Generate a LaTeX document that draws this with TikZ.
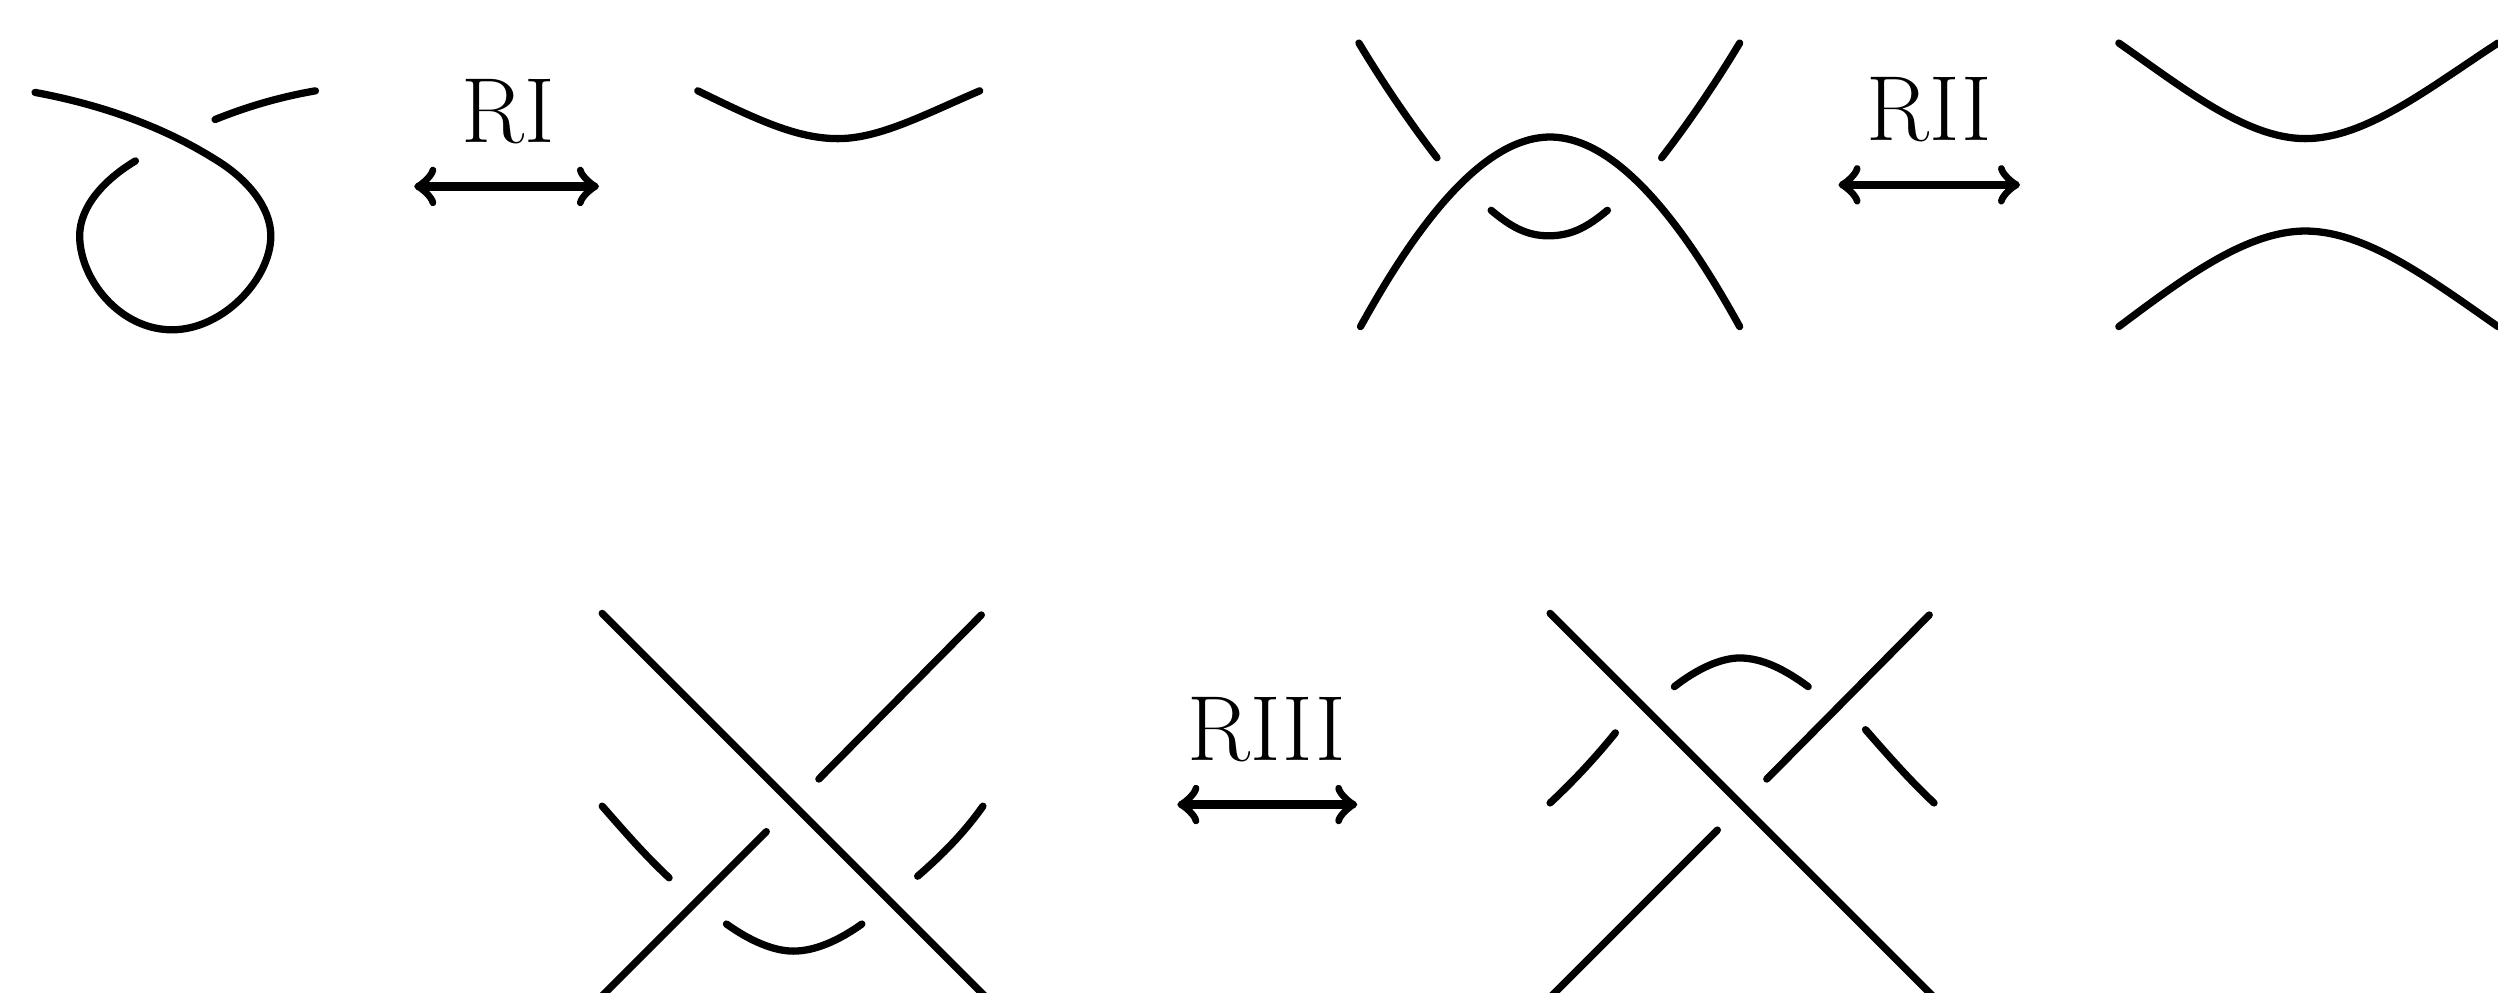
\documentclass[tikz,border=0pt]{standalone}
\usepackage{tikz}
\tikzstyle{strand} = [line width=1.3pt, line cap=round]
\tikzstyle{arrow} = [line width=1.5pt, <->, >=to]
\tikzstyle{movelabel} = [inner sep=0pt, font=\fontsize{16.5}{20}\selectfont]

\begin{document}
\begin{tikzpicture}[x=0.01cm, y=-0.01cm]
    \useasboundingbox (0,0) rectangle (1568,623);
    \clip (0,0) rectangle (1568,623);

    % Move labels
    \node[movelabel] (labelone) at (319,70) {RI};
    \node[movelabel] (labeltwo) at (1211,69) {RII};
    \node[movelabel] (labelthree) at (795,458) {RIII};

    % Arrow end points
    \coordinate (onea) at (260,117);
    \coordinate (oneb) at (376,117);
    \coordinate (twoa) at (1154,116);
    \coordinate (twob) at (1268,116);
    \coordinate (threea) at (739,505);
    \coordinate (threeb) at (852,505);

    % Arrows
    \draw[arrow] (onea) -- (oneb);
    \draw[arrow] (twoa) -- (twob);
    \draw[arrow] (threea) -- (threeb);

    % RI left
    \draw[strand] (22,58) .. controls (60,65) and (100,78) .. (135,100) .. controls (155,112) and (170,130) .. (170,148) .. controls (170,175) and (140,207) .. (108,207) .. controls (75,207) and (50,175) .. (50,148) .. controls (50,130) and (65,113) .. (85,101);
    \draw[strand] (135,75) .. controls (155,67) and (175,61) .. (198,57);

    % RI right
    \draw[strand] (438,57) .. controls (475,75) and (500,87) .. (526,87) .. controls (552,87) and (580,72) .. (615,57);

    % RII left
    \draw[strand] (853,27) .. controls (868,52) and (885,77) .. (902,99);
    \draw[strand] (1092,27) .. controls (1077,52) and (1060,77) .. (1043,99);
    \draw[strand] (854,205) .. controls (880,158) and (925,86) .. (973,86) .. controls (1021,86) and (1066,158) .. (1092,205);
    \draw[strand] (936,132) .. controls (948,142) and (958,148) .. (972,148) .. controls (987,148) and (997,142) .. (1009,132);

    % RII right
    \draw[strand] (1330,27) .. controls (1370,55) and (1410,87) .. (1447,87) .. controls (1485,87) and (1525,55) .. (1568,27);
    \draw[strand] (1330,205) .. controls (1370,175) and (1410,145) .. (1447,145) .. controls (1485,145) and (1525,175) .. (1568,205);

    % RIII left
    \draw[strand] (378,385) -- (623,630);
    \draw[strand] (616,386) -- (514,489);
    \draw[strand] (481,522) -- (373,630);
    \draw[strand] (378,506) .. controls (392,522) and (405,537) .. (420,551);
    \draw[strand] (617,506) .. controls (605,523) and (591,537) .. (576,550);
    \draw[strand] (456,580) .. controls (470,590) and (485,597) .. (498,597) .. controls (512,597) and (527,590) .. (541,580);

    % RIII right
    \draw[strand] (973,385) -- (1218,630);
    \draw[strand] (1211,386) -- (1109,489);
    \draw[strand] (1078,521) -- (969,630);
    \draw[strand] (973,504) .. controls (988,490) and (1001,476) .. (1014,460);
    \draw[strand] (1214,504) .. controls (1199,490) and (1185,474) .. (1171,458);
    \draw[strand] (1051,431) .. controls (1065,420) and (1080,413) .. (1092,413) .. controls (1106,413) and (1120,420) .. (1135,431);
\end{tikzpicture}
\end{document}
